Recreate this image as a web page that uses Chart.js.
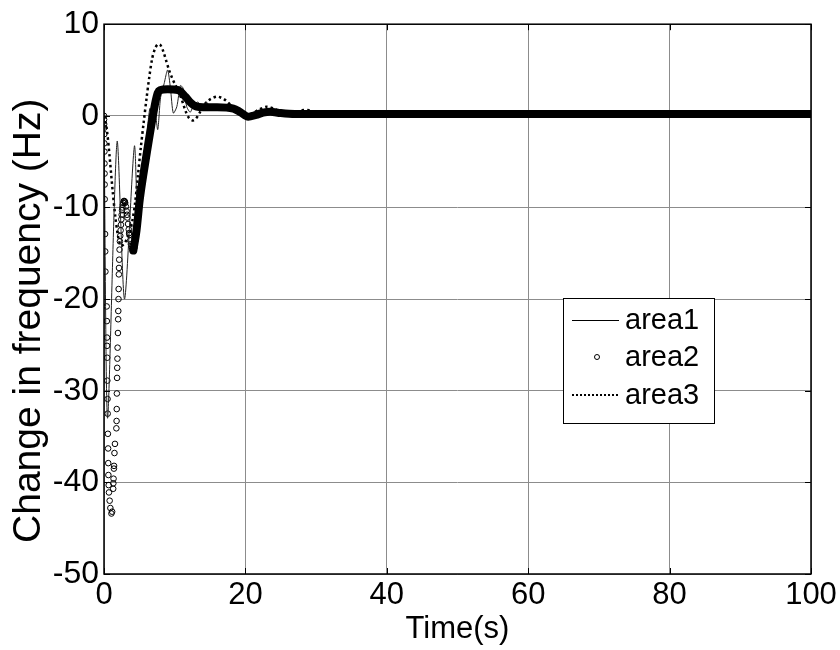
<!DOCTYPE html>
<html>
<head>
<meta charset="utf-8">
<script src="https://cdn.jsdelivr.net/npm/chart.js@4.4.0/dist/chart.umd.min.js"></script>
<style>
  html, body { margin: 0; padding: 0; background: #fff; }
</style>
</head>
<body>
<canvas id="chart" width="840" height="650"></canvas>
<script>
// axis ticks
const xTicks = [0, 20, 40, 60, 80, 100];
const yTicks = [10, 0, -10, -20, -30, -40, -50];
const legendNames = ["area1", "area2", "area3"];

// area1 (thin solid line)
const area1Time = [0, 0.5, 1.85, 2.9, 4.3, 4.8, 5.3, 5.8, 6.2, 6.5, 6.8, 7.2, 7.6, 8.0, 8.5, 9.0, 9.4, 9.8, 10.3, 10.8, 11.2, 11.7, 12.2, 12.7, 13.3, 14.0, 14.5, 15.0, 16.0, 18.3, 19.3, 20.4, 21.5, 22.5, 23.5, 25, 27, 30, 100];
const area1Freq = [0, -33, -2.8, -20, -3.3, -12, -9, -5, -1, 0.8, -2, 0.5, -1.5, 2, 3.5, 5, 3, 0.3, 1, 3.3, 3, 1, 0.4, 1.2, 1.5, 0.8, 1.5, 1, 1, 0.8, 0.4, -0.1, 0.1, 0.35, 0.6, 0.3, 0.2, 0.2, 0.2];

// area2 (circle markers) - the sampled points during the first transient
const area2Time = [0, 0.01, 0.02, 0.03, 0.04, 0.05, 0.06, 0.07, 0.08, 0.09, 0.1, 0.15, 0.17, 0.2, 0.38, 0.4, 0.42, 0.43, 0.45, 0.47, 0.5, 0.52, 0.55, 0.58, 0.6, 0.62, 0.66, 0.7, 0.8, 0.9, 1.05, 1.15,
  1.3, 1.32, 1.35, 1.4, 1.42, 1.48, 1.55, 1.75, 1.78, 1.8, 1.82, 1.85, 1.87, 1.9, 1.92, 1.97, 2.0, 2.02, 2.05, 2.07, 2.1, 2.12, 2.15, 2.2,
  2.25, 2.3, 2.35, 2.4, 2.45, 2.5, 2.55, 2.6, 2.65, 2.7, 2.8, 2.9, 2.95, 3.0, 3.1, 3.2, 3.25, 3.3, 3.4, 3.5, 3.55, 3.6, 3.7, 3.8, 3.85, 3.9, 4.0, 4.1,
  4.15, 4.3, 4.45, 4.6, 4.75, 4.9, 5.05, 5.2, 5.35, 5.5, 5.65, 5.8, 5.95, 6.1, 6.25, 6.4, 6.55, 6.7, 6.85, 7.0, 7.15, 7.3, 7.45, 7.6, 7.75, 7.9];
const area2Freq = [0, -0.4, -0.9, -1.3, -2.0, -3.0, -3.9, -5.2, -6.3, -7.5, -9.1, -12.9, -14.8, -17.0, -20.8, -22.4, -24.2, -25.1, -26.4, -28.9, -30.9, -32.5, -34.7, -36.3, -37.9, -39.2, -40.3, -41.1, -42.0, -42.8, -43.4, -43.2,
  -40.7, -40.1, -39.6, -38.5, -38.2, -36.8, -35.8, -34.1, -33.3, -32.0, -30.3, -28.6, -27.5, -26.5, -25.3, -23.7, -22.2, -21.3, -20.0, -18.9, -17.3, -16.6, -15.7, -14.6,
  -13.7, -13.1, -12.5, -11.9, -11.3, -10.8, -10.3, -10.0, -9.7, -9.5, -9.3, -9.3, -9.4, -9.5, -9.9, -10.4, -10.8, -11.1, -11.8, -12.4, -12.8, -13.0, -13.6, -14.0, -14.2, -14.3, -14.6, -14.7,
  -14.7, -14.4, -13.6, -12.5, -11.3, -10.2, -9.2, -8.3, -7.5, -6.8, -6.0, -5.3, -4.5, -3.8, -3.1, -2.4, -1.7, -1.0, -0.3, 0.4, 1.0, 1.6, 2.1, 2.5, 2.7, 2.8];
// area2 from ~4 s on: the markers are so dense they merge into a thick band
const area2BandTime = [4.15, 4.6, 5.05, 5.65, 6.25, 6.85, 7.3, 7.6, 7.9, 9, 10.5, 11.5, 12.3, 13.1, 14, 16, 18.3, 19.3, 20.4, 21.5, 22.5, 23.5, 25, 27, 30, 100];
const area2BandFreq = [-14.7, -12.5, -9.2, -6.0, -3.1, -0.3, 1.6, 2.5, 2.8, 2.9, 2.8, 2.1, 1.4, 1.0, 0.95, 0.95, 0.8, 0.4, -0.1, 0.1, 0.35, 0.45, 0.3, 0.2, 0.2, 0.2];

// area3 (dotted line)
const area3Time = [0, 0.4, 0.8, 1.2, 1.6, 2.0, 2.4, 2.8, 3.2, 3.6, 4.0, 4.4, 4.8, 5.2, 5.6, 6.0, 6.4, 6.8, 7.2, 7.6, 8.0, 8.4, 8.8, 9.2, 9.6, 10.0, 10.4, 10.8, 11.2, 11.6, 12.0, 12.5, 13.0, 13.5, 14.0, 14.5, 15.0, 15.5, 16.0, 16.5, 17.0, 17.5, 18.0, 18.5, 19.0, 19.5, 20.0, 21.0, 22.0, 23.0, 24.0, 25.0, 26.0, 27.0, 28.0, 29.0, 30.0, 32.0, 35, 100];
const area3Freq = [0, -1.5, -4.5, -8, -11, -13.2, -14.2, -14.0, -13.5, -12.8, -11.5, -9.5, -6.5, -3.5, -0.8, 1.8, 4.2, 6.2, 7.3, 7.8, 7.7, 7.0, 6.0, 5.0, 4.2, 3.5, 2.9, 2.2, 1.3, 0.4, -0.2, -0.5, -0.3, 0.3, 1.0, 1.5, 1.8, 2.0, 2.1, 2.0, 1.8, 1.5, 1.1, 0.7, 0.3, 0.05, 0, 0.3, 0.7, 1.0, 0.8, 0.4, 0.2, 0.3, 0.6, 0.6, 0.3, 0.2, 0.2, 0.2];

const pts = (ts, vs) => ts.map((t, i) => ({ x: t, y: vs[i] }));

const FONT = 'Arial, "Liberation Sans", sans-serif';
const GRID = '#8c8c8c';

// black axes box, inward tick marks and the boxed legend
const framePlugin = {
  id: 'frame',
  afterDatasetsDraw(chart) {
    const { ctx, chartArea: a, scales: { x, y } } = chart;
    ctx.save();
    ctx.strokeStyle = '#000';
    ctx.lineWidth = 1;
    ctx.beginPath();
    x.ticks.forEach(t => {
      const px = Math.round(x.getPixelForValue(t.value)) + 0.5;
      ctx.moveTo(px, a.bottom); ctx.lineTo(px, a.bottom - 6);
      ctx.moveTo(px, a.top); ctx.lineTo(px, a.top + 6);
    });
    y.ticks.forEach(t => {
      const py = Math.round(y.getPixelForValue(t.value)) + 0.5;
      ctx.moveTo(a.left, py); ctx.lineTo(a.left + 6, py);
      ctx.moveTo(a.right, py); ctx.lineTo(a.right - 6, py);
    });
    ctx.stroke();
    ctx.lineWidth = 1.5;
    ctx.strokeRect(a.left, a.top, a.right - a.left, a.bottom - a.top);

    // legend
    const bx = 563, by = 298, bw = 151, bh = 125;
    ctx.fillStyle = '#fff';
    ctx.fillRect(bx, by, bw, bh);
    ctx.lineWidth = 1;
    ctx.strokeRect(bx + 0.5, by + 0.5, bw, bh);
    ctx.font = '29px ' + FONT;
    ctx.textBaseline = 'middle';
    ctx.fillStyle = '#000';
    const rows = [320, 357, 395];
    // area1
    ctx.beginPath(); ctx.moveTo(572, rows[0] + 0.5); ctx.lineTo(619, rows[0] + 0.5); ctx.stroke();
    // area2
    ctx.beginPath(); ctx.arc(597, rows[1], 2.5, 0, Math.PI * 2); ctx.stroke();
    // area3
    ctx.save();
    ctx.lineWidth = 2; ctx.setLineDash([2, 2]);
    ctx.beginPath(); ctx.moveTo(572, rows[2]); ctx.lineTo(619, rows[2]); ctx.stroke();
    ctx.restore();
    legendNames.forEach((n, i) => ctx.fillText(n, 625, rows[i] + 1));
    ctx.restore();
  }
};

new Chart(document.getElementById('chart'), {
  type: 'line',
  data: {
    datasets: [
      {
        label: 'area2 band',
        data: pts(area2BandTime, area2BandFreq),
        borderColor: '#000', borderWidth: 8, pointRadius: 0,
        borderJoinStyle: 'round', borderCapStyle: 'round', cubicInterpolationMode: 'monotone'
      },
      {
        label: 'area1',
        data: pts(area1Time, area1Freq),
        borderColor: '#222', borderWidth: 1, pointRadius: 0, tension: 0.25
      },
      {
        label: 'area2',
        data: pts(area2Time, area2Freq),
        showLine: false, pointStyle: 'circle', pointRadius: 2.8,
        pointBorderWidth: 1, pointBorderColor: '#000', pointBackgroundColor: 'rgba(255,255,255,0)'
      },
      {
        label: 'area3',
        data: pts(area3Time, area3Freq),
        borderColor: '#000', borderWidth: 2.5, borderDash: [2.5, 3], pointRadius: 0, tension: 0.3
      }
    ]
  },
  options: {
    responsive: false,
    animation: false,
    devicePixelRatio: 1,
    layout: { padding: { top: 22, right: 29, left: 0, bottom: 0 } },
    plugins: { legend: { display: false }, tooltip: { enabled: false } },
    scales: {
      x: {
        type: 'linear', min: 0, max: 100,
        afterBuildTicks: s => { s.ticks = xTicks.map(v => ({ value: v })); },
        afterFit: s => { s.height = 76; },
        grid: { color: GRID, drawTicks: false },
        border: { display: false },
        ticks: { color: '#000', font: { family: FONT, size: 31 }, padding: 3, maxRotation: 0 },
        title: { display: true, text: 'Time(s)', color: '#000', font: { family: FONT, size: 31 }, padding: { top: 0, bottom: 2 } }
      },
      y: {
        min: -50, max: 10,
        afterBuildTicks: s => { s.ticks = yTicks.map(v => ({ value: v })); },
        afterFit: s => { s.width = 104; },
        grid: { color: GRID, drawTicks: false },
        border: { display: false },
        ticks: { color: '#000', font: { family: FONT, size: 32 }, padding: 5 },
        // trailing spaces push the label a little below the axis centre, as in the original
        title: { display: true, text: 'Change in frequency (Hz)    ', color: '#000', font: { family: FONT, size: 39 }, padding: { top: 6, bottom: 0 } }
      }
    }
  },
  plugins: [framePlugin]
});
</script>
</body>
</html>
